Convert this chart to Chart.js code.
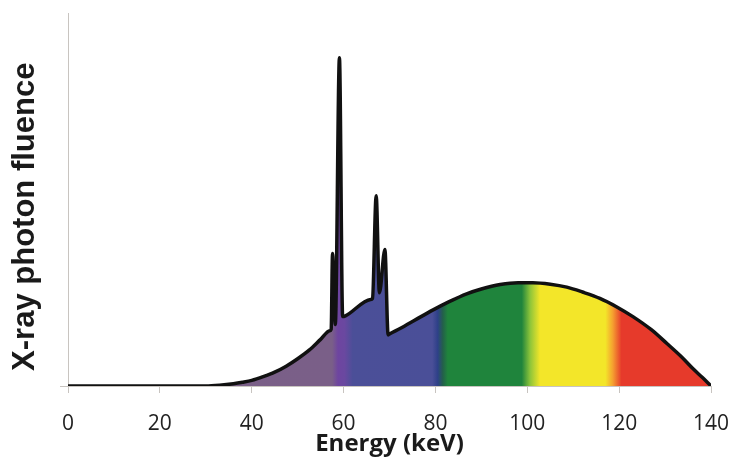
<!DOCTYPE html>
<html>
<head>
<meta charset="utf-8">
<script src="https://cdn.jsdelivr.net/npm/chart.js@4/dist/chart.umd.min.js"></script>
<style>
  html, body { margin: 0; padding: 0; background: #fff; }
  #wrap { width: 734px; height: 459px; }
</style>
</head>
<body>
<div id="wrap"><canvas id="spectrum"></canvas></div>
<script>
// energy (keV) and relative photon fluence
const energy = [0, 30, 33, 36, 38, 40, 42.5, 45, 47.5, 50, 52.5, 55, 57.0, 57.3, 57.6, 58.2, 59.1, 59.8, 60.4,
                65.9, 66.3, 67.1, 67.8, 69.0, 69.7, 70.1, 72.3, 76, 79.5, 83, 86.8, 90, 94.1, 98, 101.2, 105,
                108.6, 112, 115.8, 119.5, 123, 127, 130.4, 133.5, 136.1, 138.2, 140];
const fluence = [0, 0, 0.2, 0.6, 1.0, 1.5, 2.5, 3.7, 5.3, 7.3, 9.6, 12.5, 14.8, 15.2, 35.5, 16.5, 88, 18.6, 18.8,
                 23.2, 23.5, 51, 25, 36.6, 13.7, 14.0, 15.4, 18.0, 20.4, 22.6, 24.7, 26.0, 27.2, 27.7, 27.7, 27.3,
                 26.5, 25.2, 23.5, 21.2, 18.6, 15.1, 11.4, 7.9, 4.6, 2.2, 0];
const xTicks = [0, 20, 40, 60, 80, 100, 120, 140];

// colour bands under the curve, by energy
const bandStops = [
  [0, '#7a6088'], [57.5, '#7a5f88'], [58.8, '#6e45a0'], [60.2, '#6a48a0'], [62, '#4b4f98'],
  [79.3, '#4a4f98'], [80.5, '#2e4088'], [81.6, '#23604a'], [82.7, '#1f843c'], [98.8, '#1f843c'],
  [100.6, '#8cc43a'], [102.8, '#f3e629'], [117, '#f3e629'], [118.6, '#f5a030'], [120.5, '#e63a2b'],
  [140, '#e63a2b']
];

const axisGrey = '#c8c4c0';

function bandFill(context) {
  const chart = context.chart;
  const area = chart.chartArea;
  if (!area) return null;
  const xs = chart.scales.x;
  const x0 = xs.getPixelForValue(0), x1 = xs.getPixelForValue(140);
  const g = chart.ctx.createLinearGradient(x0, 0, x1, 0);
  bandStops.forEach(s => g.addColorStop(s[0] / 140, s[1]));
  return g;
}

new Chart(document.getElementById('spectrum'), {
  type: 'line',
  data: {
    datasets: [{
      data: energy.map((e, i) => ({ x: e, y: fluence[i] })),
      borderColor: '#111',
      borderWidth: 3.5,
      borderJoinStyle: 'round',
      backgroundColor: bandFill,
      fill: 'origin',
      pointRadius: 0,
      cubicInterpolationMode: 'monotone'
    }]
  },
  options: {
    responsive: true,
    maintainAspectRatio: false,
    animation: false,
    layout: { padding: { top: 13, right: 23, left: 0, bottom: 0 } },
    plugins: { legend: { display: false }, tooltip: { enabled: false } },
    scales: {
      x: {
        type: 'linear',
        min: 0, max: 140,
        afterBuildTicks: s => { s.ticks = xTicks.map(v => ({ value: v })); },
        afterFit: s => { s.height = 73; s.paddingLeft = 0; s.paddingRight = 0; },
        grid: { drawOnChartArea: false, tickLength: 7, color: axisGrey },
        border: { color: axisGrey, width: 1 },
        ticks: { font: { family: 'Open Sans', size: 21 }, color: '#222', padding: 18, maxRotation: 0 },
        title: {
          display: true, text: 'Energy (keV)', color: '#1a1a1a',
          font: { family: 'Open Sans', size: 24, weight: 'bold' },
          padding: { top: 0, bottom: 0 }
        }
      },
      y: {
        min: 0, max: 100,
        afterBuildTicks: s => { s.ticks = [{ value: 0 }]; },
        afterFit: s => { s.width = 68; s.paddingTop = 0; s.paddingBottom = 0; },
        grid: { drawOnChartArea: false, tickLength: 8, color: axisGrey },
        border: { color: axisGrey, width: 1 },
        ticks: { display: false },
        title: {
          display: true, text: 'X-ray photon fluence    ', color: '#1a1a1a',
          font: { family: 'Liberation Sans', size: 31, weight: 'bold' },
          padding: { top: 7, bottom: 0 }
        }
      }
    }
  }
});
</script>
</body>
</html>
